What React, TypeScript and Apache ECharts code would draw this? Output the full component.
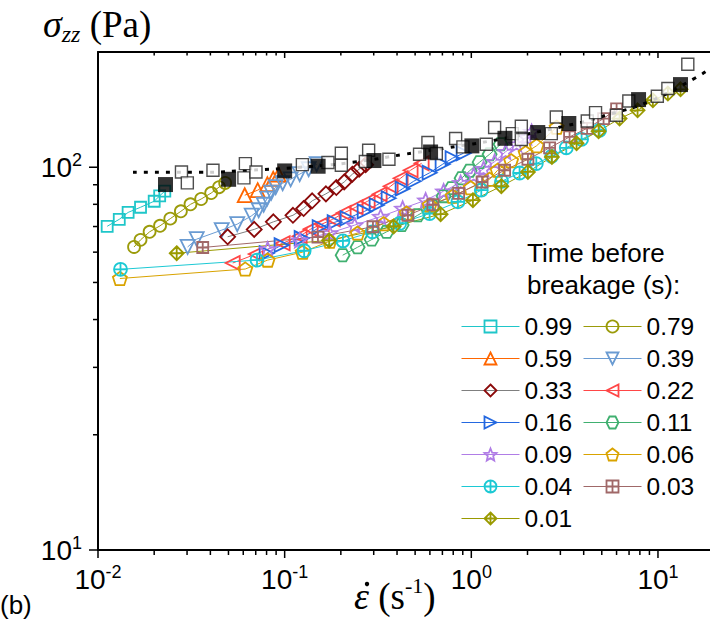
import React, { useEffect, useRef } from 'react';
import * as echarts from 'echarts';

// ---------- axis ranges & ticks ----------
const X_MIN = 0.01;
const X_MAX = 19;
const Y_MIN = 10;
const Y_MAX = 200;
const majorX = [0.01, 0.1, 1, 10];
const minorX = [0.02, 0.03, 0.04, 0.05, 0.06, 0.07, 0.08, 0.09, 0.2, 0.3, 0.4, 0.5, 0.6, 0.7, 0.8, 0.9, 2, 3, 4, 5, 6, 7, 8, 9];
const majorY = [10, 100];
const minorY = [20, 30, 40, 50, 60, 70, 80, 90];

// ---------- legend ----------
const legendTitle = 'Time before\nbreakage (s):';
const legendLeftCol = ['0.99', '0.59', '0.33', '0.16', '0.09', '0.04', '0.01'];
const legendRightCol = ['0.79', '0.39', '0.22', '0.11', '0.06', '0.03'];

// ---------- data ----------
const x099 = [0.0112, 0.013, 0.0145, 0.0169, 0.02, 0.0214, 0.0228];
const y099 = [70.1, 73.1, 76.2, 78.6, 81.5, 84.2, 86.6];
const x079 = [0.0156, 0.0169, 0.0189, 0.0215, 0.0244, 0.0278, 0.0313, 0.0357, 0.0404, 0.0445, 0.048];
const y079 = [61.9, 64.6, 67.8, 70.3, 73.4, 76.7, 80.0, 82.6, 85.6, 88.7, 91.0];
const x059 = [0.0611, 0.0717, 0.0808, 0.0868, 0.0929];
const y059 = [84.5, 87.1, 90.3, 93.3, 95.6];
const x039 = [0.0302, 0.0338, 0.046, 0.0557, 0.0666, 0.0726, 0.0772, 0.0806, 0.0847, 0.0895, 0.0976, 0.1077, 0.1203, 0.1345, 0.1484];
const y039 = [61.9, 64.9, 68.5, 71.0, 74.7, 77.2, 79.8, 82.8, 85.8, 88.7, 90.8, 93.0, 95.9, 98.8, 101.8];
const x033 = [0.0495, 0.0687, 0.087, 0.1108, 0.1264, 0.1404, 0.1664, 0.1892, 0.2084, 0.2305, 0.2506, 0.2716];
const y033 = [65.8, 68.8, 72.0, 74.9, 78.0, 81.7, 85.2, 88.5, 91.5, 95.9, 98.8, 101.5];
const x022 = [0.0527, 0.07, 0.0976, 0.1203, 0.1378, 0.1579, 0.1808, 0.207, 0.2401, 0.2784, 0.3227, 0.3697, 0.4181, 0.4729, 0.5418];
const y022 = [56.2, 59.3, 63.3, 66.0, 68.9, 71.0, 73.1, 75.9, 78.6, 81.5, 85.0, 89.2, 93.6, 98.2, 102.4];
const x016 = [0.0801, 0.0963, 0.1233, 0.154, 0.1853, 0.2175, 0.2683, 0.311, 0.3606, 0.4286, 0.4909, 0.5979, 0.7019, 0.7939, 0.9095];
const y016 = [59.6, 62.6, 65.3, 69.7, 71.8, 73.6, 76.7, 79.6, 83.0, 87.9, 91.9, 96.7, 101.8, 105.6, 108.8];
const x011 = [0.2045, 0.246, 0.2924, 0.3518, 0.4233, 0.5158, 0.6204, 0.7106, 0.7845, 0.8872, 0.979, 1.108, 1.253, 1.435];
const y011 = [58.9, 61.8, 64.7, 67.8, 70.6, 74.9, 78.9, 84.0, 88.2, 93.6, 97.9, 103.1, 108.1, 114.8];
const x009 = [0.0811, 0.1203, 0.1742, 0.2371, 0.3268, 0.4286, 0.5692, 0.7106, 0.8764, 1.029, 1.164, 1.333, 1.527, 1.748, 1.978, 2.104];
const y009 = [61.1, 64.5, 67.3, 70.6, 74.3, 78.0, 82.0, 86.6, 91.1, 95.3, 99.1, 103.4, 109.8, 114.8, 119.7, 123.8];
const x006 = [0.0131, 0.0615, 0.0811, 0.1249, 0.1742, 0.246, 0.3391, 0.4502, 0.5979, 0.7939, 0.9915, 1.253, 1.383, 1.634, 1.954, 2.238, 2.864];
const y006 = [51.2, 54.2, 57.2, 60.0, 64.1, 67.3, 71.2, 75.9, 79.6, 84.0, 88.4, 93.0, 98.2, 104.0, 109.1, 113.8, 127.2];
const x004 = [0.0132, 0.0711, 0.1272, 0.2052, 0.2949, 0.413, 0.5979, 0.8475, 1.131, 1.453, 1.814, 2.23, 2.692, 3.227, 3.898, 4.866];
const y004 = [54.1, 57.2, 60.5, 64.2, 67.8, 71.3, 75.7, 81.2, 87.1, 91.9, 96.6, 102.2, 106.8, 112.4, 118.3, 124.9];
const x003 = [0.0364, 0.1508, 0.2972, 0.4574, 0.6227, 0.8551, 1.142, 1.508, 2.01, 2.627, 3.361, 4.172, 5.112, 6.003];
const y003 = [61.7, 65.7, 69.9, 74.9, 79.8, 85.4, 91.5, 98.2, 104.9, 112.4, 120.0, 126.4, 134.0, 142.1];
const x001 = [0.0264, 0.1731, 0.3835, 0.6848, 1.02, 1.448, 2.01, 2.702, 3.664, 4.807, 6.228, 7.776, 9.391, 11.3, 13.21];
const y001 = [59.6, 64.4, 70.0, 75.4, 82.0, 89.2, 97.2, 106.4, 115.5, 124.2, 134.0, 140.8, 149.6, 155.8, 159.8];

const xOpen = [0.028, 0.0301, 0.0413, 0.0616, 0.0605, 0.0702, 0.1244, 0.1706, 0.2012, 0.2012, 0.2818, 0.2706, 0.362, 0.528, 0.5855, 0.6494, 0.824, 0.9016, 1.203, 1.333, 1.658, 1.853, 1.853, 2.683, 2.853, 4.18, 4.63, 5.98, 6.98, 9.92, 11.3, 14.45];
const yOpen = [97.2, 91.0, 98.2, 102.2, 93.8, 97.2, 101.6, 102.9, 108.8, 101.2, 110.8, 103.5, 104.9, 108.1, 116.0, 108.6, 118.9, 113.0, 114.8, 127.0, 122.4, 128.0, 118.1, 122.4, 135.3, 132.1, 138.9, 136.7, 148.9, 153.2, 160.6, 185.8];
const xFilled = [0.023, 0.0501, 0.1, 0.1511, 0.3008, 0.605, 1.007, 1.514, 2.27, 3.33, 7.87, 13.2];
const yFilled = [90.1, 93.0, 97.8, 100.6, 104.1, 109.6, 113.7, 119.0, 123.2, 130.1, 150.2, 164.4];
const xFit = [0.0154, 0.035, 0.0649, 0.1203, 0.2313, 0.4339, 0.7346, 1.418, 3.65, 5.28, 9.02, 16.0, 19];
const yFit = [97.0, 97.0, 98.2, 100, 103.0, 108.0, 112.3, 118.3, 130.1, 136.7, 148.7, 171.5, 181];

// ---------- symbols ----------
const SYM_HEX = 'path://M5,0L15,0L20,8.66L15,17.32L5,17.32L0,8.66Z';
const SYM_STAR = 'path://M10,0L12.65,6.36L19.51,6.91L14.28,11.39L15.88,18.09L10,14.5L4.12,18.09L5.72,11.39L0.49,6.91L7.35,6.36Z';
const SYM_PENT = 'path://M10,0L19.51,6.91L15.88,18.09L4.12,18.09L0.49,6.91Z';
const SYM_CPLUS = 'path://M0,10A10,10,0,1,1,20,10A10,10,0,1,1,0,10ZM10,0L10,20M0,10L20,10';
const SYM_SPLUS = 'path://M0,0L20,0L20,20L0,20ZM10,0L10,20M0,10L20,10';
const SYM_DPLUS = 'path://M10,0L20,10L10,20L0,10ZM10,0L10,20M0,10L20,10';

const SANS = '"Liberation Sans", Arial, sans-serif';
const SERIF = '"Liberation Serif", "Times New Roman", serif';

function zip(xs: number[], ys: number[]) {
  return xs.map((x, i) => [x, ys[i]]);
}

function mk(name: string, xs: number[], ys: number[], color: string, symbol: string, size: number, rotate = 0, lineColor?: string) {
  return {
    type: 'line',
    name,
    data: zip(xs, ys),
    symbol,
    symbolSize: size,
    symbolRotate: rotate,
    symbolKeepAspect: true,
    showSymbol: true,
    showAllSymbol: true,
    itemStyle: { color: 'transparent', borderColor: color, borderWidth: 1.8 },
    lineStyle: { color: lineColor || color, width: 1 },
    emphasis: { disabled: true },
    z: 2,
  };
}

const supFmt = (v: number) => {
  const l = Math.log10(v);
  const e = Math.round(l);
  return Math.abs(l - e) < 1e-6 ? `{b|10}{s|${e}}` : '';
};
const labelRich = {
  b: { fontSize: 28, fontFamily: SANS, color: '#000', lineHeight: 32 },
  s: { fontSize: 18, fontFamily: SANS, color: '#000', lineHeight: 16, verticalAlign: 'top' },
};

export default function App() {
  const ref = useRef<HTMLDivElement>(null);
  useEffect(() => {
    if (!ref.current) return;
    const chart = echarts.init(ref.current, null, { renderer: 'svg' });
    const tickData: number[][] = [
      ...majorX.map((v) => [v, Y_MIN, 1, 8]),
      ...minorX.map((v) => [v, Y_MIN, 1, 5]),
      ...majorX.map((v) => [v, Y_MAX, 2, 6]),
      ...minorX.map((v) => [v, Y_MAX, 2, 3.5]),
      ...majorY.map((v) => [X_MIN, v, 0, 9]),
      ...minorY.map((v) => [X_MIN, v, 0, 5]),
    ];
    const legendCommon = {
      orient: 'vertical',
      top: 314,
      itemWidth: 58,
      itemHeight: 15,
      itemGap: 7,
      padding: 0,
      selectedMode: false,
      textStyle: { fontSize: 24.5, fontFamily: SANS, color: '#000' },
      lineStyle: { width: 1 },
      itemStyle: { borderWidth: 1.8 },
    };
    const option: any = {
      animation: false,
      backgroundColor: '#fff',
      grid: { left: 98, right: 0, top: 52, bottom: 84, containLabel: false, outerBoundsMode: 'none' },
      xAxis: [
        {
          type: 'log', logBase: 10, min: X_MIN, max: X_MAX, position: 'bottom',
          axisLine: { show: true, onZero: false, lineStyle: { color: '#000', width: 2 } },
          axisTick: { show: false }, splitLine: { show: false },
          axisLabel: { formatter: supFmt, margin: 13, rich: labelRich, showMinLabel: true, showMaxLabel: true },
        },
        {
          type: 'log', logBase: 10, min: X_MIN, max: X_MAX, position: 'top',
          axisLine: { show: true, onZero: false, lineStyle: { color: '#000', width: 2 } },
          axisTick: { show: false }, splitLine: { show: false }, axisLabel: { show: false },
        },
      ],
      yAxis: {
        type: 'log', logBase: 10, min: Y_MIN, max: Y_MAX,
        axisLine: { show: true, onZero: false, lineStyle: { color: '#000', width: 2 } },
        axisTick: { show: false }, splitLine: { show: false },
        axisLabel: { formatter: supFmt, margin: 16, rich: labelRich, showMinLabel: true },
      },
      legend: [
        { ...legendCommon, left: 461, data: legendLeftCol },
        { ...legendCommon, left: 583, data: legendRightCol },
      ],
      graphic: [
        {
          type: 'text', x: 43, y: 2, silent: true,
          style: {
            text: '{a|σ}{b|zz}{c| (Pa)}',
            rich: {
              a: { fontFamily: SERIF, fontStyle: 'italic', fontSize: 38, lineHeight: 44, fill: '#000' },
              b: { fontFamily: SERIF, fontStyle: 'italic', fontSize: 24, lineHeight: 22, verticalAlign: 'bottom', fill: '#000' },
              c: { fontFamily: SERIF, fontSize: 37, lineHeight: 44, fill: '#000' },
            },
          },
        },
        {
          type: 'text', x: 354, y: 574, silent: true,
          style: {
            text: '{a|ε}{c| (s}{s|-1}{c|)}',
            rich: {
              a: { fontFamily: SERIF, fontStyle: 'italic', fontSize: 38, lineHeight: 44, fill: '#000' },
              c: { fontFamily: SERIF, fontSize: 37, lineHeight: 44, fill: '#000' },
              s: { fontFamily: SERIF, fontSize: 22, lineHeight: 24, verticalAlign: 'top', fill: '#000' },
            },
          },
        },
        { type: 'circle', silent: true, shape: { cx: 367, cy: 584, r: 2.2 }, style: { fill: '#000' } },
        {
          type: 'text', x: 527, y: 237, silent: true,
          style: { text: legendTitle, fontFamily: SANS, fontSize: 26, lineHeight: 32, fill: '#000' },
        },
        {
          type: 'text', x: 0, y: 589, silent: true,
          style: { text: '(b)', fontFamily: SANS, fontSize: 26, lineHeight: 32, fill: '#000' },
        },
      ],
      series: [
        mk('0.99', x099, y099, '#1fc6c9', 'rect', 11),
        mk('0.79', x079, y079, '#9b9b0a', 'circle', 12),
        mk('0.59', x059, y059, '#ff6600', 'triangle', 14),
        mk('0.39', x039, y039, '#6a9bd2', 'triangle', 14, 180),
        mk('0.33', x033, y033, '#8b0a0a', 'diamond', 15, 0, '#7f7f7f'),
        mk('0.22', x022, y022, '#ff4646', 'triangle', 14, 90),
        mk('0.16', x016, y016, '#2468e0', 'triangle', 14, -90),
        mk('0.11', x011, y011, '#40b070', SYM_HEX, 14),
        mk('0.09', x009, y009, '#b07de6', SYM_STAR, 15),
        mk('0.06', x006, y006, '#d9a300', SYM_PENT, 14),
        mk('0.04', x004, y004, '#1cc9d4', SYM_CPLUS, 13),
        mk('0.03', x003, y003, '#a06868', SYM_SPLUS, 11),
        mk('0.01', x001, y001, '#9a9a00', SYM_DPLUS, 14),
        {
          type: 'line', name: 'fit', data: zip(xFit, yFit), smooth: true, symbol: 'none',
          lineStyle: { color: '#000', width: 3, type: [4, 7] }, z: 3, emphasis: { disabled: true },
        },
        {
          type: 'scatter', name: 'open', data: zip(xOpen, yOpen), symbol: 'rect', symbolSize: 12,
          itemStyle: { color: '#fff', borderColor: '#222', borderWidth: 1.4 }, z: 4, emphasis: { disabled: true },
        },
        {
          type: 'scatter', name: 'filled', data: zip(xFilled, yFilled), symbol: 'rect', symbolSize: 15,
          itemStyle: { color: '#000' }, z: 5, emphasis: { disabled: true },
        },
        {
          type: 'custom', name: 'ticks', data: tickData, clip: false, silent: true, z: 10,
          encode: { x: 0, y: 1 },
          renderItem: (_p: any, api: any) => {
            const p = api.coord([api.value(0), api.value(1)]);
            const k = api.value(2);
            const len = api.value(3);
            const shape = k === 0
              ? { x1: p[0] - len, y1: p[1], x2: p[0], y2: p[1] }
              : { x1: p[0], y1: p[1], x2: p[0], y2: p[1] + len };
            return { type: 'line', shape, style: { stroke: '#000', lineWidth: 1.5 } };
          },
        },
      ],
    };
    chart.setOption(option);
    return () => chart.dispose();
  }, []);
  return (
    <div
      ref={ref}
      style={{ position: 'fixed', left: 0, top: 0, width: 710, height: 634, background: '#fff' }}
    />
  );
}
